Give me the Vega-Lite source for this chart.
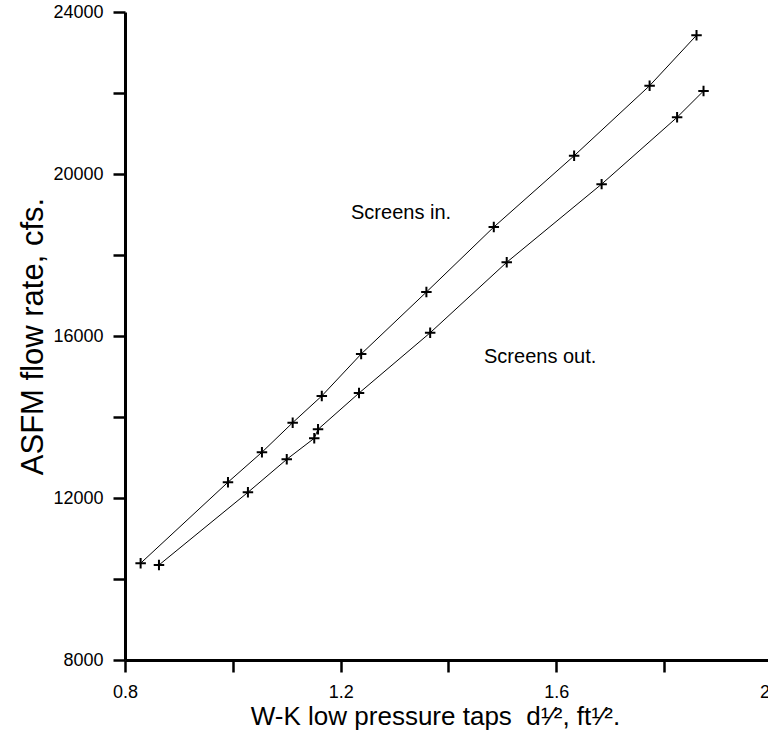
{
  "$schema": "https://vega.github.io/schema/vega-lite/v6.json",
  "width": 647,
  "height": 648,
  "autosize": "none",
  "padding": {"left": 125, "top": 12, "right": 0, "bottom": 76},
  "background": "white",
  "config": {"view": {"stroke": null}},
  "layer": [
    {
      "data": {"name": "pts", "values": [
        {"series": "in", "x": 0.829, "y": 10390},
        {"series": "in", "x": 0.991, "y": 12390},
        {"series": "in", "x": 1.054, "y": 13130},
        {"series": "in", "x": 1.111, "y": 13860},
        {"series": "in", "x": 1.165, "y": 14520},
        {"series": "in", "x": 1.238, "y": 15555},
        {"series": "in", "x": 1.359, "y": 17085},
        {"series": "in", "x": 1.484, "y": 18690},
        {"series": "in", "x": 1.633, "y": 20450},
        {"series": "in", "x": 1.773, "y": 22180},
        {"series": "in", "x": 1.860, "y": 23425},
        {"series": "out", "x": 0.863, "y": 10345},
        {"series": "out", "x": 1.028, "y": 12140},
        {"series": "out", "x": 1.100, "y": 12955},
        {"series": "out", "x": 1.151, "y": 13475},
        {"series": "out", "x": 1.158, "y": 13695},
        {"series": "out", "x": 1.234, "y": 14590},
        {"series": "out", "x": 1.366, "y": 16080},
        {"series": "out", "x": 1.508, "y": 17820},
        {"series": "out", "x": 1.684, "y": 19750},
        {"series": "out", "x": 1.824, "y": 21400},
        {"series": "out", "x": 1.873, "y": 22050}
      ]},
      "mark": {"type": "line", "color": "black", "strokeWidth": 1},
      "encoding": {
        "x": {
          "field": "x", "type": "quantitative",
          "scale": {"domain": [0.8, 2.0], "nice": false, "zero": false},
          "axis": {
            "title": "W-K low pressure taps\u00a0 d¹⁄², ft¹⁄².",
            "values": [0.8, 1.0, 1.2, 1.4, 1.6, 1.8, 2.0],
            "labelExpr": "indexof([0.8, 1.2, 1.6, 2], datum.value) >= 0 ? format(datum.value, '.1f') : ''",
            "grid": false,
            "domainColor": "black", "domainWidth": 3,
            "tickColor": "black", "tickWidth": 2.5, "tickSize": 12,
            "labelPadding": 11, "labelFont": "Liberation Sans", "labelFontSize": 18, "labelColor": "black",
            "labelFlush": false, "labelOverlap": false,
            "titleFont": "Liberation Sans", "titleFontSize": 26, "titleFontWeight": "normal", "titleColor": "black",
            "titlePadding": 2, "titleX": 310, "titleAnchor": "start", "titleAlign": "center"
          }
        },
        "y": {
          "field": "y", "type": "quantitative",
          "scale": {"domain": [8000, 24000], "nice": false, "zero": false},
          "axis": {
            "title": "ASFM flow rate, cfs.",
            "values": [8000, 10000, 12000, 14000, 16000, 18000, 20000, 22000, 24000],
            "labelExpr": "datum.value % 4000 == 0 ? format(datum.value, 'd') : ''",
            "grid": false,
            "domainColor": "black", "domainWidth": 3,
            "tickColor": "black", "tickWidth": 2.5, "tickSize": 12,
            "labelPadding": 10, "labelFont": "Liberation Sans", "labelFontSize": 18, "labelColor": "black",
            "labelFlush": false, "labelOverlap": false,
            "titleFont": "Liberation Sans", "titleFontSize": 31, "titleFontWeight": "normal", "titleColor": "black",
            "titlePadding": 3
          }
        },
        "detail": {"field": "series"}
      }
    },
    {
      "data": {"name": "pts"},
      "mark": {"type": "point", "shape": "M-1,0L1,0M0,-1L0,1", "filled": false, "stroke": "black", "strokeWidth": 2, "size": 110, "opacity": 1},
      "encoding": {
        "x": {"field": "x", "type": "quantitative"},
        "y": {"field": "y", "type": "quantitative"}
      }
    },
    {
      "data": {"values": [
        {"label": "Screens in.", "x": 1.312, "y": 19040},
        {"label": "Screens out.", "x": 1.570, "y": 15480}
      ]},
      "mark": {"type": "text", "font": "Liberation Sans", "fontSize": 20, "color": "black", "align": "center", "baseline": "middle"},
      "encoding": {
        "x": {"field": "x", "type": "quantitative"},
        "y": {"field": "y", "type": "quantitative"},
        "text": {"field": "label"}
      }
    }
  ]
}
